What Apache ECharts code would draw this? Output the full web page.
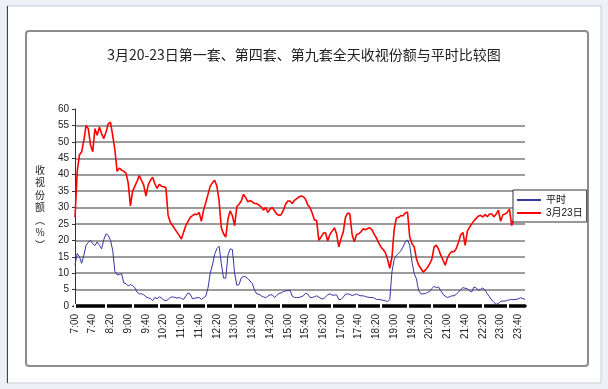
<!DOCTYPE html>
<html><head><meta charset="utf-8">
<script src="https://cdn.jsdelivr.net/npm/echarts@6/dist/echarts.min.js"></script>
<style>html,body{margin:0;padding:0;background:#edf0f5;} #c{width:608px;height:389px;}</style>
</head><body><div id="c"></div>
<script>
const TITLE = '3月20-23日第一套、第四套、第九套全天收视份额与平时比较图';
const SERIES_NAMES = ['平时', '3月23日'];
const Y_NAME = '收\n视\n份\n额\n︵\n%\n︶';
const Y_MIN = 0, Y_MAX = 60, Y_STEP = 5;

// time categories, every 5 minutes from 7:00 to 23:55
const times = [];
for (let m = 7 * 60; m < 24 * 60; m += 5) times.push(Math.floor(m / 60) + ':' + String(m % 60).padStart(2, '0'));

// 平时 (normal days)
const normal = [
  12.5, 16, 15, 13, 15.5, 18.5, 19.4, 20, 19, 18.4,
  19.5, 18.5, 17.4, 20.2, 22, 21.5, 20, 17, 10.5, 9.5,
  9.6, 9.9, 7, 6.8, 6.1, 6.5, 6.2, 5.6, 4.2, 3.7,
  3.7, 3.4, 2.8, 2.5, 2.3, 1.6, 2.6, 2.2, 2.8, 2.5,
  1.8, 1.6, 2, 2.6, 2.8, 2.6, 2.4, 2.6, 2.3, 2,
  3, 4, 3.6, 2.2, 2.4, 2.5, 2.6, 2, 2.5, 3,
  5.5, 10, 12.5, 15.7, 17.5, 18.2, 13, 8.5, 8.5, 15.5,
  17.4, 17.2, 10, 6.3, 6.5, 8.6, 9, 8.9, 8.3, 7.6,
  6.8, 4.8, 3.7, 3.6, 3.1, 2.8, 2.5, 3, 3.4, 3.4,
  2.6, 3.2, 3.8, 4, 4.4, 4.6, 4.7, 4.8, 3, 2.6,
  2.6, 2.6, 2.8, 3.1, 3.9, 3.6, 2.6, 2.6, 2.8, 3.1,
  2.7, 2.3, 2.1, 2.8, 3.4, 3.7, 3.3, 3.3, 3.4, 2,
  2, 2.7, 3.6, 3.7, 3.5, 3.2, 3.4, 3.7, 3.3, 3.1,
  3.1, 2.9, 2.7, 2.6, 2.6, 2.4, 2, 2, 1.9, 1.7,
  1.6, 1.3, 2, 10.5, 14.2, 15.4, 16.1, 16.8, 18, 19.5,
  20.1, 18.5, 13.5, 9.9, 8.3, 4.7, 3.7, 3.7, 3.8, 4.1,
  4.4, 5.3, 6, 5.6, 5.8, 4.7, 3.6, 3, 2.6, 2.8,
  3.1, 3.1, 3.6, 4.2, 5, 5.6, 5.4, 5.3, 4.6, 4.3,
  5.8, 5.5, 4.8, 5.1, 5.5, 4.8, 3.7, 2.8, 1.8, 1.1,
  0.5, 0.8, 1.4, 1.5, 1.5, 1.7, 1.9, 2, 1.9, 2,
  2.2, 2.5, 2.3, 2
];

// 3月23日
const mar23 = [
  27, 41, 46, 47, 50.5, 55, 54, 49, 47, 54,
  52, 54.5, 52.5, 51, 53, 55.5, 56, 52, 47.5, 41,
  42, 41.4, 41, 40.5, 37.5, 30.5, 35, 36.5, 38, 39.7,
  38.3, 36.8, 33.5, 36.8, 38.3, 39.2, 37.3, 35.8, 37, 36.5,
  36.3, 36, 27.6, 25.5, 24.5, 23.5, 22.5, 21.5, 20.4, 22.5,
  24.5, 25.8, 27, 27.5, 28, 27.8, 28.5, 25.8, 29.2, 31.5,
  34, 36.5, 37.5, 38.3, 36.5, 32, 23.8, 22, 21, 26.5,
  29, 27.5, 24.5, 30.2, 31, 32, 34, 33, 31.7, 32.2,
  31.7, 31.2, 31.2, 30.7, 30.2, 29.2, 30, 28.5, 29.5, 30,
  29, 28, 27.6, 27.8, 29.2, 31, 32, 32, 31.2, 32.2,
  32.7, 33.2, 33.5, 33.3, 32.5, 30.8, 30, 28.3, 26.2, 26,
  20, 21, 22.2, 22.3, 19.8, 21.8, 22.8, 23.8, 22, 18,
  20.5, 22.5, 27, 28.3, 28, 21.8, 19.6, 21.8, 22, 22.6,
  23.5, 23.2, 23.6, 23.8, 23.2, 21.8, 20.7, 19.2, 18, 17.2,
  16.3, 14.2, 11.5, 15, 23.5, 26.8, 27, 27.5, 27.5, 28.3,
  28.6, 21, 19, 18, 14.5, 12.5, 11.5, 10.3, 10.9, 11.7,
  12.9, 14.3, 18, 18.5, 17.3, 15.5, 14, 12.4, 14.6, 15.9,
  16.6, 16.5, 17.5, 19.4, 21.7, 22.4, 18.5, 22.8, 24, 25,
  26, 26.7, 27.4, 27.6, 27.1, 27.9, 27.2, 28, 28, 27.2,
  28, 29.2, 25.8, 27.8, 28, 28.5, 29.5, 24.5, 26.5, 27,
  27.5, 27, 27.5, 27
];

const FONT = '"Liberation Sans","Noto Sans CJK SC",sans-serif';
const CJK = '"Noto Sans CJK SC",sans-serif';
// positions (category index) of the small white breaks in the thick baseline
const BREAKS = new Set([0, 14, 26, 38, 48, 59, 71, 82, 93, 105, 116, 127, 138, 150, 161, 172, 184, 195]);
const breakFn = (i) => BREAKS.has(i);

const chart = echarts.init(document.getElementById('c'), null, { renderer: 'canvas' });
chart.setOption({
  backgroundColor: '#edf0f5',
  animation: false,
  graphic: [
    { type: 'rect', z: -10, shape: { x: 7, y: 6, width: 594, height: 377 }, style: { fill: '#fff', stroke: '#c9cdd3', lineWidth: 1 } },
    { type: 'line', z: -9, shape: { x1: 7.5, y1: 6, x2: 7.5, y2: 383 }, style: { stroke: '#444', lineWidth: 1 } },
    { type: 'rect', z: -8, shape: { x: 26, y: 31, width: 562, height: 335, r: 3 }, style: { fill: '#fff', stroke: '#8c8c8c', lineWidth: 2 } }
  ],
  title: {
    text: TITLE, left: 'center', top: 43,
    textStyle: { fontSize: 14, fontWeight: 'normal', color: '#222', fontFamily: CJK }
  },
  legend: {
    orient: 'vertical', left: 513, top: 190, data: SERIES_NAMES,
    backgroundColor: '#fff', borderColor: '#333', borderWidth: 1, borderRadius: 0,
    padding: [4, 4, 3, 4], itemGap: 1, itemWidth: 24, itemHeight: 2, icon: 'rect',
    textStyle: { fontSize: 10, color: '#111', fontFamily: FONT, lineHeight: 12 }
  },
  grid: { left: 75, right: 83, top: 109, bottom: 83 },
  xAxis: [
    {
      type: 'category', data: times, boundaryGap: false, position: 'bottom',
      axisLine: { lineStyle: { color: '#000', width: 3.5 } },
      axisTick: { show: true, inside: false, length: 2, interval: breakFn, lineStyle: { color: '#fff', width: 2 } },
      axisLabel: { interval: 7, rotate: 90, margin: 8, fontSize: 10, color: '#222', fontFamily: FONT },
      splitLine: { show: false }
    },
    {
      type: 'category', data: times, boundaryGap: false, position: 'bottom',
      axisLine: { show: false },
      axisTick: { show: true, inside: true, length: 2, interval: breakFn, lineStyle: { color: '#fff', width: 2 } },
      axisLabel: { show: false },
      splitLine: { show: false }
    }
  ],
  yAxis: {
    type: 'value', min: Y_MIN, max: Y_MAX, interval: Y_STEP,
    name: Y_NAME, nameLocation: 'middle', nameGap: 35, nameRotate: 0,
    nameTextStyle: { fontSize: 10, lineHeight: 12.5, color: '#222', align: 'center', verticalAlign: 'middle', fontFamily: CJK },
    axisLine: { show: true, lineStyle: { color: '#333', width: 1 } },
    axisTick: { show: true, length: 3, lineStyle: { color: '#333' } },
    axisLabel: { fontSize: 10, color: '#222', margin: 6, fontFamily: FONT },
    splitLine: { show: true, showMinLine: false, showMaxLine: false, lineStyle: { color: '#7a7a7a', width: 1.5 } }
  },
  series: [
    { name: SERIES_NAMES[0], type: 'line', data: normal, symbol: 'none', lineStyle: { color: '#3535a5', width: 1 }, itemStyle: { color: '#3535a5' } },
    { name: SERIES_NAMES[1], type: 'line', data: mar23, symbol: 'none', lineStyle: { color: '#ff0000', width: 1.6 }, itemStyle: { color: '#ff0000' } }
  ]
});
</script></body></html>
